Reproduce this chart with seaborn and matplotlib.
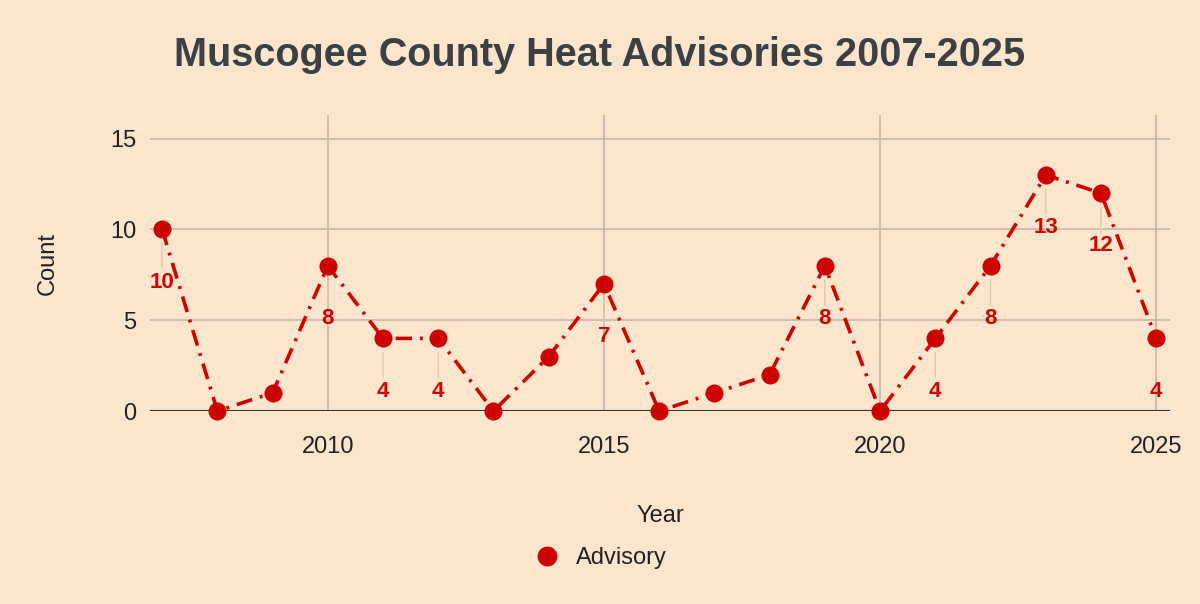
import matplotlib
matplotlib.use('Agg')
import matplotlib.pyplot as plt
import seaborn as sns
import pandas as pd

# Data
years = [2007, 2008, 2009, 2010, 2011, 2012, 2013, 2014, 2015, 2016,
         2017, 2018, 2019, 2020, 2021, 2022, 2023, 2024, 2025]
counts = [10, 0, 1, 8, 4, 4, 0, 3, 7, 0, 1, 2, 8, 0, 4, 8, 13, 12, 4]
labeled_years = [2007, 2010, 2011, 2012, 2015, 2019, 2021, 2022, 2023, 2024, 2025]
x_ticks = [2010, 2015, 2020, 2025]
y_ticks = [0, 5, 10, 15]

df = pd.DataFrame({'Year': years, 'Count': counts})

bg = '#fce5cd'
red = '#cc0000'
grid_col = '#c4b6a6'

sns.set_theme(style='white')
plt.rcParams['font.family'] = ['Liberation Sans', 'DejaVu Sans']

fig = plt.figure(figsize=(12, 6.04), dpi=100, facecolor=bg)
ax = fig.add_axes([0.125, 0.3195, 0.85, 0.49])
ax.set_facecolor(bg)

sns.lineplot(data=df, x='Year', y='Count', ax=ax, color=red, marker='o',
             markersize=13, markeredgewidth=0, linewidth=2.6,
             label='Advisory', clip_on=False, zorder=4)
ax.lines[0].set_linestyle((0, (4.5, 2.2, 0.8, 2.2)))

# data labels with thin leader lines
for yr, c in zip(years, counts):
    if yr in labeled_years:
        ax.annotate(str(c), xy=(yr, c), xytext=(0, -38), textcoords='offset points',
                    ha='center', va='center', fontsize=16, fontweight='bold', color=red,
                    arrowprops=dict(arrowstyle='-', color='#e3c6ae', lw=1,
                                    shrinkA=0, shrinkB=10), zorder=3)

ax.set_xlim(2006.78, 2025.25)
ax.set_ylim(0, 16.3)
ax.set_xticks(x_ticks)
ax.set_yticks(y_ticks)
ax.grid(True, color=grid_col, linewidth=1.2)
ax.axhline(0, color='#333333', linewidth=1.5, zorder=2)
for s in ax.spines.values():
    s.set_visible(False)
ax.tick_params(axis='both', labelsize=17, colors='#222222', length=0)
ax.tick_params(axis='x', pad=18)
ax.tick_params(axis='y', pad=10)

ax.set_xlabel('Year', fontsize=17, color='#222222', labelpad=34)
ax.set_ylabel('Count', fontsize=17, color='#222222', labelpad=37)

fig.suptitle('Muscogee County Heat Advisories 2007-2025', x=0.5, y=0.94,
             fontsize=28.5, fontweight='bold', color='#3c4043')

leg = ax.legend(loc='center', bbox_to_anchor=(0.441, -0.497), frameon=False,
                fontsize=17, handlelength=1.2, handletextpad=0.6, markerscale=1.1)
for h in leg.legend_handles:
    h.set_linestyle('none')
for t in leg.get_texts():
    t.set_color('#222222')

fig.savefig('out.png', dpi=100, facecolor=bg)
